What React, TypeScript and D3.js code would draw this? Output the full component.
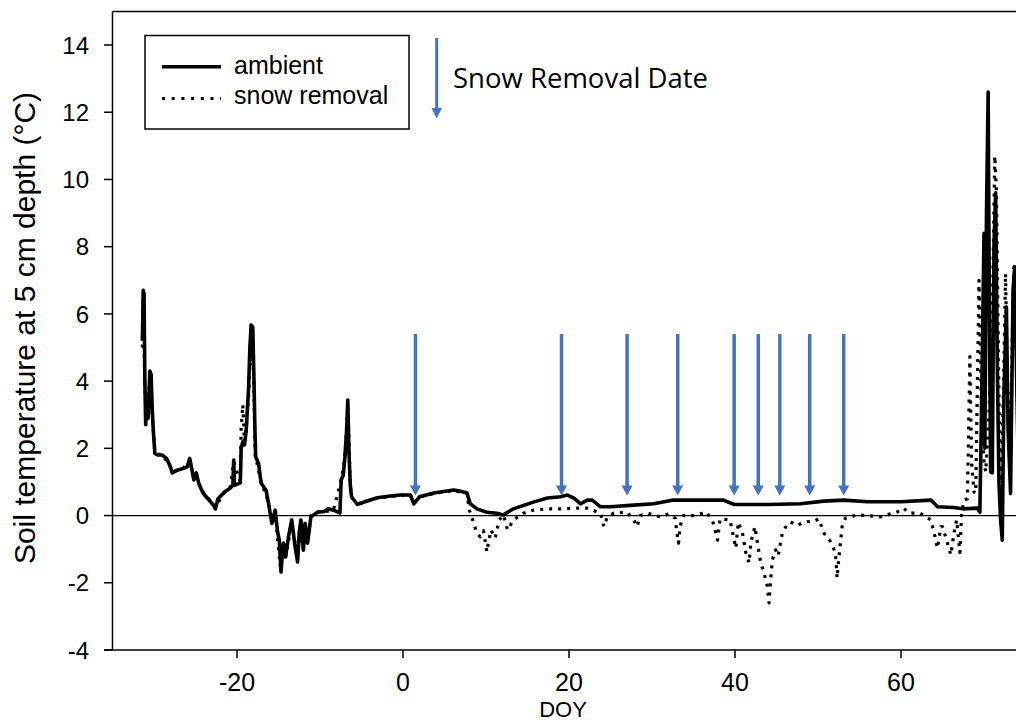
import React from "react";
import * as d3 from "d3";

// Ambient plot: day of year vs. soil temperature (°C) at 5 cm
const ambientDays = [
  -31.4, -31.3, -31.2, -31.1, -31.0, -30.85, -30.7, -30.5, -30.35, -30.2, -30.1, -29.9,
  -29.5, -29.0, -28.5, -28.1, -27.8, -27.2, -26.5, -26.0, -25.7, -25.5, -25.2, -24.9,
  -24.6, -24.1, -23.5, -22.8, -22.6, -22.3, -21.5, -20.8, -20.5, -20.4, -20.3, -19.8,
  -19.6, -19.5, -19.3, -19.1, -18.9, -18.6, -18.45, -18.3, -18.1, -17.95, -17.85, -17.75,
  -17.4, -17.1, -16.5, -16.2, -15.8, -15.4, -15.1, -14.9, -14.7, -14.55, -14.4, -14.15,
  -13.8, -13.4, -13.0, -12.7, -12.5, -12.3, -12.0, -11.8, -11.5, -11.1, -10.3, -9.5,
  -9.0, -8.4, -7.6, -7.45, -7.2, -7.0, -6.8, -6.65, -6.5, -6.35, -6.2, -5.5,
  -4.5, -3.1, -1.5, -0.3, 0.9, 1.3, 2.0, 3.7, 6.1, 7.0, 7.7, 8.1,
  8.9, 10.1, 11.3, 12.1, 13.3, 15.7, 17.4, 19.0, 19.8, 20.6, 21.4, 22.2,
  22.8, 23.8, 25.0, 27.8, 30.2, 32.6, 35.8, 38.6, 39.9, 41.1, 44.0, 47.9,
  50.7, 53.1, 56.0, 60.0, 63.6, 64.4, 66.3, 67.5, 69.2, 69.5, 69.7, 70.0,
  70.1, 70.3, 70.5, 70.65, 70.8, 71.0, 71.2, 71.4, 71.6, 71.8, 72.0, 72.2,
  72.4, 72.7, 72.9, 73.2, 73.5, 73.7, 73.9, 74.2,
];
const ambientTemps = [
  5.2, 6.7, 6.6, 4.0, 2.7, 3.6, 2.9, 4.3, 4.2, 3.1, 2.6, 1.85,
  1.8, 1.8, 1.7, 1.5, 1.27, 1.35, 1.4, 1.45, 1.7, 1.45, 1.06, 1.27,
  0.95, 0.67, 0.5, 0.3, 0.2, 0.5, 0.7, 0.82, 0.9, 1.65, 0.9, 0.95,
  0.97, 2.0, 2.2, 2.1, 2.5, 3.8, 5.0, 5.67, 5.6, 4.0, 2.65, 1.75,
  1.55, 0.97, 0.75, 0.36, -0.23, 0.16, -0.5, -0.73, -1.68, -1.2, -0.82, -1.23,
  -0.63, -0.13, -0.93, -1.38, -0.5, -0.13, -1.03, -0.23, -0.82, -0.04, 0.1, 0.12,
  0.2, 0.16, 0.08, 1.06, 1.2, 1.75, 2.5, 3.44, 1.8, 0.9, 0.56, 0.33,
  0.42, 0.53, 0.58, 0.61, 0.61, 0.35, 0.56, 0.67, 0.76, 0.72, 0.67, 0.35,
  0.2, 0.1, 0.07, 0.02, 0.2, 0.4, 0.52, 0.56, 0.61, 0.52, 0.35, 0.46,
  0.46, 0.26, 0.26, 0.31, 0.35, 0.46, 0.46, 0.46, 0.33, 0.33, 0.33, 0.35,
  0.43, 0.46, 0.41, 0.41, 0.46, 0.26, 0.24, 0.2, 0.22, 0.1, 3.1, 8.4,
  2.0, 9.0, 12.6, 6.0, 1.3, 1.27, 8.0, 9.6, 4.6, 1.0, -0.13, -0.73,
  3.6, 6.2, 2.6, 0.66, 6.7, 7.4, 4.6, 0.5,
];

// Snow removal plot
const removalDays = [
  -31.4, -31.3, -31.1, -30.9, -30.5, -30.2, -29.9, -29.0, -28.1, -27.8, -26.5, -25.7,
  -25.2, -24.6, -24.1, -22.6, -21.5, -20.8, -20.4, -19.6, -19.5, -19.3, -19.1, -18.9,
  -18.6, -18.3, -18.0, -17.8, -17.1, -16.2, -15.8, -15.4, -14.8, -14.4, -14.1, -13.4,
  -12.7, -12.3, -12.0, -11.5, -11.1, -10.3, -8.4, -7.5, -7.0, -6.65, -6.35, -6.2,
  -5.5, -3.1, -0.3, 0.9, 1.3, 2.0, 3.7, 6.1, 7.7, 8.0, 8.4, 8.9,
  9.3, 9.7, 10.1, 10.3, 10.6, 11.1, 11.6, 12.1, 12.6, 13.3, 14.5, 15.7,
  17.4, 19.0, 21.0, 22.2, 23.8, 24.2, 24.6, 25.4, 27.0, 27.8, 28.2, 28.6,
  29.4, 31.0, 32.0, 32.8, 33.0, 33.2, 33.4, 33.8, 35.0, 36.6, 37.4, 37.9,
  38.2, 39.4, 39.9, 40.1, 40.4, 40.9, 41.3, 41.7, 41.9, 42.4, 42.7, 43.1,
  43.5, 43.9, 44.1, 44.3, 44.5, 44.9, 45.2, 45.7, 46.2, 46.7, 47.5, 48.3,
  49.5, 50.1, 50.7, 51.4, 52.1, 52.3, 52.5, 52.9, 53.3, 54.7, 56.0, 57.5,
  58.3, 59.5, 60.3, 61.0, 62.3, 63.6, 64.0, 64.4, 64.8, 65.0, 65.6, 66.0,
  66.4, 66.7, 67.1, 67.3, 67.6, 68.0, 68.3, 68.5, 68.8, 69.0, 69.4, 69.7,
  70.0, 70.2, 70.6, 71.0, 71.3, 71.5, 71.8, 72.0, 72.2, 72.6, 72.8, 73.1,
  73.6, 73.9, 74.2,
];
const removalTemps = [
  5.0, 6.5, 3.8, 2.8, 4.1, 3.0, 1.85, 1.8, 1.5, 1.3, 1.4, 1.65,
  1.1, 0.95, 0.7, 0.25, 0.7, 0.85, 1.6, 1.0, 2.6, 3.3, 2.2, 2.6,
  3.6, 5.5, 4.2, 1.8, 1.0, 0.4, -0.2, 0.1, -1.5, -0.8, -1.2, -0.2,
  -1.3, -0.2, -1.0, -0.8, 0.0, 0.1, 0.15, 1.0, 1.7, 3.3, 0.9, 0.55,
  0.35, 0.52, 0.6, 0.6, 0.38, 0.55, 0.66, 0.74, 0.66, 0.16, -0.13, -0.52,
  -0.63, -0.45, -1.08, -0.8, -0.43, -0.67, -0.13, 0.02, -0.43, -0.13, 0.07, 0.16,
  0.2, 0.2, 0.22, 0.22, 0.07, -0.33, -0.05, 0.07, 0.1, -0.13, -0.33, 0.0,
  0.07, -0.04, 0.05, -0.08, -0.52, -0.82, -0.3, 0.0, 0.0, 0.1, -0.23, -0.73,
  -0.1, -0.13, -0.73, -0.97, -0.2, -0.52, -1.1, -1.41, -0.8, -0.33, -0.8, -1.41,
  -1.71, -2.11, -2.6, -1.9, -1.32, -1.02, -1.2, -0.52, -0.3, -0.19, -0.3, -0.19,
  -0.17, -0.1, -0.52, -0.73, -1.1, -1.86, -1.3, -0.33, -0.08, 0.02, 0.0, -0.04,
  0.02, 0.1, 0.22, 0.07, 0.07, -0.13, -0.52, -0.97, -0.33, -0.33, -0.82, -1.17,
  -0.5, -0.13, -1.1, 0.07, 0.46, 0.5, 4.73, 1.6, 0.7, 0.66, 7.0, 3.0,
  1.6, 1.3, 3.0, 6.0, 10.7, 9.6, 3.5, 1.0, 2.0, 7.2, 4.0, 1.5,
  7.4, 5.0, 1.2,
];

// Days on which snow was removed
const removalDates = [1.5, 19.1, 27.0, 33.1, 39.9, 42.8, 45.4, 49.0, 53.1];

const yTicks = [-4, -2, 0, 2, 4, 6, 8, 10, 12, 14];
const xTicks = [-20, 0, 20, 40, 60];

const W = 1016;
const H = 721;
const left = 112.5;
const top = 11.4;
const bottom = 650;

const BLUE = "#4472C4";
const SANS = "'Liberation Sans', Arial, sans-serif";

export default function App() {
  const x = d3.scaleLinear().domain([-35, 75]).range([left, left + 110 * 8.3]);
  const y = d3.scaleLinear().domain([-4, 15]).range([bottom, top]);

  const series = d3
    .line<[number, number]>()
    .x((d) => x(d[0]))
    .y((d) => y(d[1]));

  const ambientPath = series(ambientDays.map((d, i) => [d, ambientTemps[i]]));
  const removalPath = series(removalDays.map((d, i) => [d, removalTemps[i]]));

  const arrowTop = 5.4;
  const arrowTip = 0.6;

  return (
    <svg
      width={W}
      height={H}
      style={{ position: "absolute", left: 0, top: 0, background: "#fff" }}
      fontFamily={SANS}
    >
      <defs>
        <clipPath id="plotClip">
          <rect x={left} y={top} width={W - left} height={bottom - top} />
        </clipPath>
      </defs>
      <rect x={0} y={0} width={W} height={H} fill="#fff" />

      {/* zero reference line */}
      <line x1={left} x2={W} y1={y(0)} y2={y(0)} stroke="#000" strokeWidth={1.2} />

      <g clipPath="url(#plotClip)">
        <path
          d={removalPath || ""}
          fill="none"
          stroke="#000"
          strokeWidth={3.2}
          strokeDasharray="3,6"
          strokeLinejoin="round"
        />
        <path
          d={ambientPath || ""}
          fill="none"
          stroke="#000"
          strokeWidth={3.6}
          strokeLinejoin="round"
        />
      </g>

      {/* snow removal arrows */}
      {removalDates.map((d) => {
        const ax = x(d);
        const y0 = y(arrowTop);
        const y1 = y(arrowTip);
        return (
          <g key={d}>
            <line x1={ax} x2={ax} y1={y0} y2={y1 - 9} stroke={BLUE} strokeWidth={3.5} />
            <path d={`M${ax - 5.5},${y1 - 10} L${ax + 5.5},${y1 - 10} L${ax},${y1} Z`} fill={BLUE} />
          </g>
        );
      })}

      {/* frame */}
      <line x1={left} x2={W} y1={top} y2={top} stroke="#000" strokeWidth={1.5} />
      <line x1={left} x2={left} y1={top} y2={bottom} stroke="#000" strokeWidth={1.5} />
      <line x1={104} x2={W} y1={bottom} y2={bottom} stroke="#000" strokeWidth={1.5} />

      {/* y axis */}
      {yTicks.map((t) => (
        <g key={t}>
          <line x1={104} x2={left} y1={y(t)} y2={y(t)} stroke="#000" strokeWidth={1.5} />
          <text x={89} y={y(t)} dy="0.36em" textAnchor="end" fontSize={24}>
            {t}
          </text>
        </g>
      ))}
      <text
        transform={`translate(35,${(88 + 568) / 2}) rotate(-90)`}
        textAnchor="middle"
        fontSize={30}
      >
        Soil temperature at 5 cm depth (°C)
      </text>

      {/* x axis */}
      {xTicks.map((t) => (
        <g key={t}>
          <line x1={x(t)} x2={x(t)} y1={bottom} y2={bottom + 8} stroke="#000" strokeWidth={1.5} />
          <text x={x(t)} y={691} textAnchor="middle" fontSize={25}>
            {t}
          </text>
        </g>
      ))}
      <text x={563} y={717} textAnchor="middle" fontSize={22}>
        DOY
      </text>

      {/* legend */}
      <rect x={145} y={35.5} width={264} height={93.5} fill="#fff" stroke="#000" strokeWidth={1.5} />
      <line x1={162} x2={221} y1={66.7} y2={66.7} stroke="#000" strokeWidth={3.6} />
      <text x={234} y={74} fontSize={25}>
        ambient
      </text>
      <line x1={162} x2={221} y1={98.5} y2={98.5} stroke="#000" strokeWidth={3} strokeDasharray="3,6.7" />
      <text x={234} y={104} fontSize={25}>
        snow removal
      </text>

      <line x1={436.7} x2={436.7} y1={38} y2={109} stroke={BLUE} strokeWidth={3} />
      <path d="M431.5,108 L441.9,108 L436.7,118.5 Z" fill={BLUE} />
      <text
        x={453}
        y={88}
        fontSize={27}
        fontFamily="'Open Sans', 'Noto Sans', sans-serif"
        textLength={255}
        lengthAdjust="spacingAndGlyphs"
      >
        Snow Removal Date
      </text>
    </svg>
  );
}
